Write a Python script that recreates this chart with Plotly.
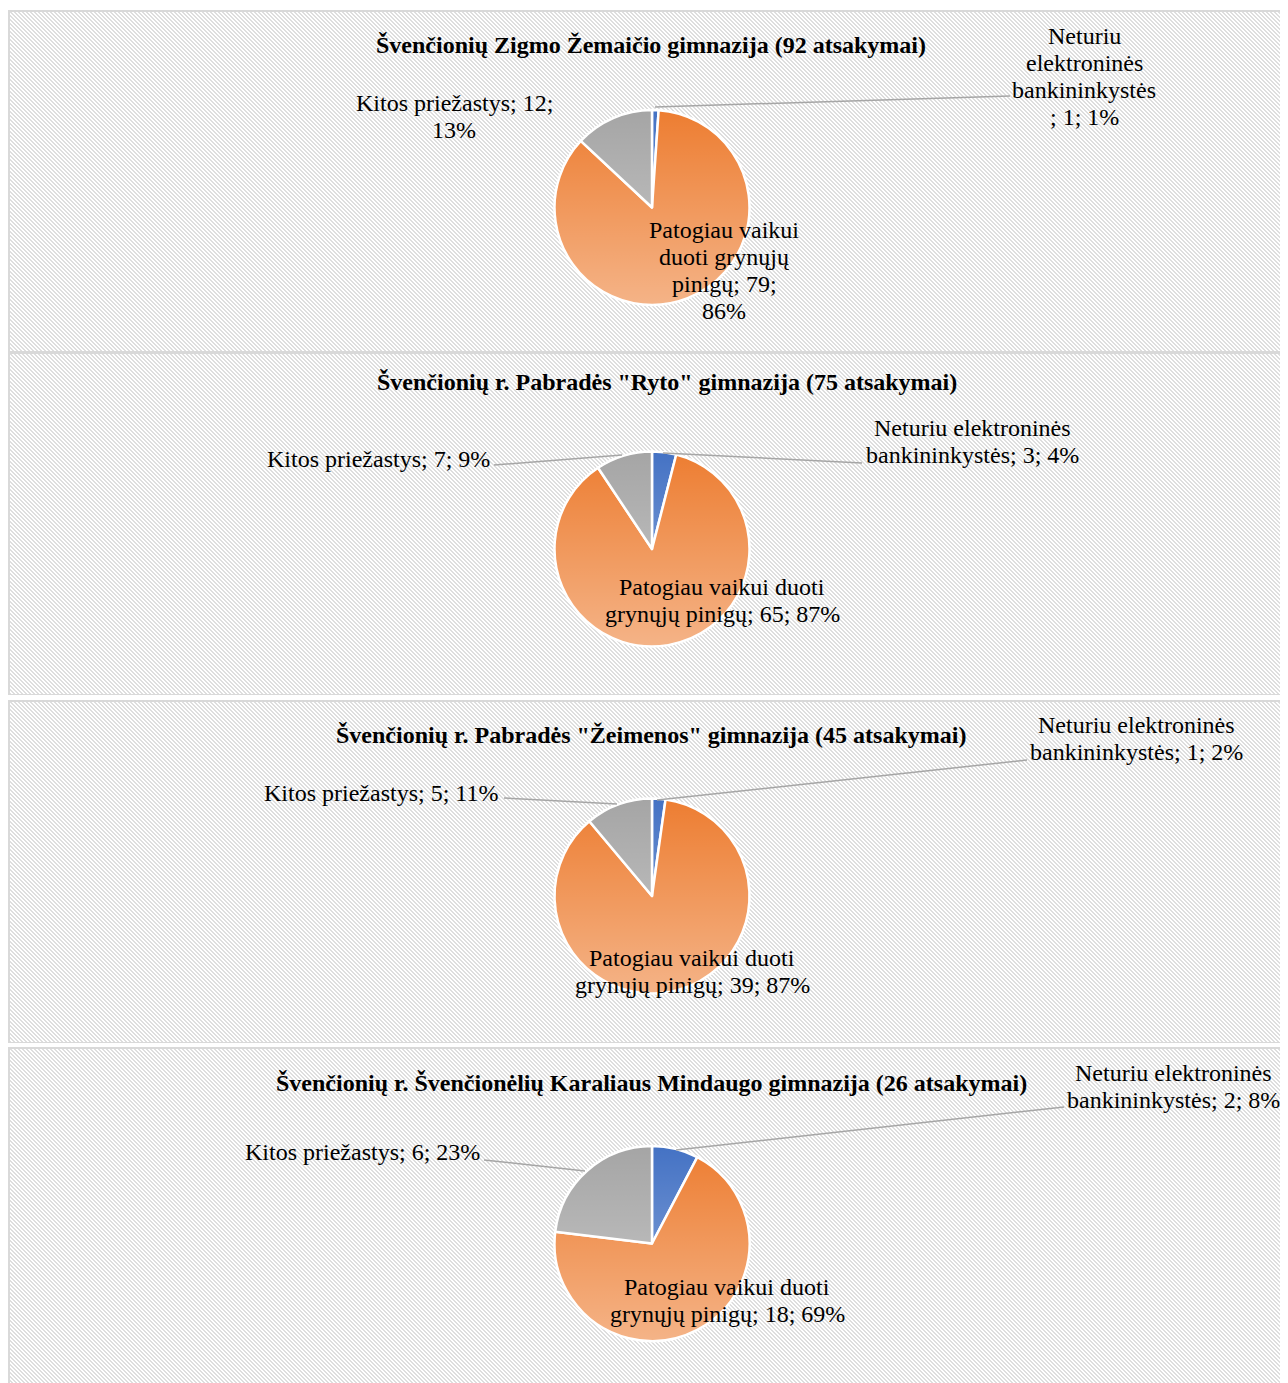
import base64
import plotly.graph_objects as go

OFF = 8  # page offset of the figure (body margin)
W, H = 1288 - OFF, 1383 - OFF  # figure size

# ---------------- data ----------------
categories = [
    "Neturiu elektroninės bankininkystės",
    "Patogiau vaikui duoti grynųjų pinigų",
    "Kitos priežastys",
]
schools = [
    "Švenčionių Zigmo Žemaičio gimnazija",
    'Švenčionių r. Pabradės "Ryto" gimnazija',
    'Švenčionių r. Pabradės "Žeimenos" gimnazija',
    "Švenčionių r. Švenčionėlių Karaliaus Mindaugo gimnazija",
]
responses = [92, 75, 45, 26]
neturiu = [1, 3, 1, 2]
patogiau = [79, 65, 39, 18]
kitos = [12, 7, 5, 6]

# ---------------- style / layout ----------------
colors = ["#4472C4", "#ED7D31", "#A5A5A5"]
FONT = "Liberation Serif"
FS = 24
LINE = 27

# label line wrapping (as in the reference), {v}=value, {p}=percent
wraps = [
    [["Neturiu", "elektroninės", "bankininkystės", "; {v}; {p}%"],
     ["Patogiau vaikui", "duoti grynųjų", "pinigų; {v};", "{p}%"],
     ["Kitos priežastys; {v};", "{p}%"]],
    [["Neturiu elektroninės", "bankininkystės; {v}; {p}%"],
     ["Patogiau vaikui duoti", "grynųjų pinigų; {v}; {p}%"],
     ["Kitos priežastys; {v}; {p}%"]],
    [["Neturiu elektroninės", "bankininkystės; {v}; {p}%"],
     ["Patogiau vaikui duoti", "grynųjų pinigų; {v}; {p}%"],
     ["Kitos priežastys; {v}; {p}%"]],
    [["Neturiu elektroninės", "bankininkystės; {v}; {p}%"],
     ["Patogiau vaikui duoti", "grynųjų pinigų; {v}; {p}%"],
     ["Kitos priežastys; {v}; {p}%"]],
]
# panel boxes (page px): x0, y0, x1, y1
panels = [(8, 10, 1300, 352), (8, 352, 1300, 695), (8, 700, 1300, 1043), (8, 1047, 1300, 1396)]
pie_cx = 652
pie_cy = [207.5, 549, 896, 1243.5]
pie_r = 97.5
title_pos = [(651, 45), (667, 382), (651, 735), (651, 1083)]
# label anchor (x center, first line y) per category
label_pos = [
    [(1084, 36), (724, 230), (454, 103)],
    [(972, 428), (722, 587), (378, 459)],
    [(1136, 725), (692, 958), (381, 793)],
    [(1173, 1073), (727, 1287), (362, 1152)],
]
leaders = [
    [(1010, 96, 655, 107), None, None],
    [(862, 463, 663, 453), None, (494, 465, 622, 455)],
    [(1027, 760, 657, 800), None, (504, 798, 617, 804)],
    [(1064, 1107, 676, 1150), None, (484, 1160, 585, 1171)],
]


def px(x):
    return (x - OFF) / W


def py(y):
    return 1 - (y - OFF) / H


def uri(svg):
    return "data:image/svg+xml;base64," + base64.b64encode(svg.encode("utf-8")).decode()


def hatch_svg(w, h):
    cells = "".join(
        f'<rect x="{(j + k) % 4}" y="{j}" width="1" height="1"/>' for j in range(4) for k in range(2)
    )
    return (
        f'<svg xmlns="http://www.w3.org/2000/svg" width="{w}" height="{h}" viewBox="0 0 {w} {h}" '
        f'preserveAspectRatio="none" shape-rendering="crispEdges">'
        f'<defs><pattern id="p" x="0" y="0" width="4" height="4" patternUnits="userSpaceOnUse">'
        f'<rect width="4" height="4" fill="#ffffff"/><g fill="#dedede">{cells}</g></pattern></defs>'
        f'<rect width="{w}" height="{h}" fill="url(#p)"/>'
        f'<rect x="0.75" y="0.75" width="{w - 1.5}" height="{h - 1.5}" fill="none" '
        f'stroke="#d9d9d9" stroke-width="1.5"/></svg>'
    )


GRAD_SVG = (
    '<svg xmlns="http://www.w3.org/2000/svg" width="200" height="200" viewBox="0 0 200 200">'
    '<defs><linearGradient id="g" x1="0" y1="0" x2="0" y2="1">'
    '<stop offset="0" stop-color="#ffffff" stop-opacity="0"/>'
    '<stop offset="1" stop-color="#ffffff" stop-opacity="0.42"/></linearGradient></defs>'
    '<circle cx="100" cy="100" r="100" fill="url(#g)"/></svg>'
)

fig = go.Figure()
images, annotations, shapes = [], [], []

for i in range(4):
    vals = [neturiu[i], patogiau[i], kitos[i]]
    total = sum(vals)
    cy = pie_cy[i]
    fig.add_trace(go.Pie(
        labels=categories,
        values=vals,
        sort=False,
        direction="clockwise",
        rotation=0,
        marker=dict(colors=colors, line=dict(color="#ffffff", width=2.5)),
        textinfo="none",
        hovertemplate="%{label}: %{value} (%{percent})<extra></extra>",
        showlegend=False,
        domain=dict(x=[px(pie_cx - pie_r), px(pie_cx + pie_r)],
                    y=[py(cy + pie_r), py(cy - pie_r)]),
    ))

    # panel background
    x0, y0, x1, y1 = panels[i]
    images.append(dict(
        source=uri(hatch_svg(x1 - x0, y1 - y0)), xref="paper", yref="paper",
        x=px(x0), y=py(y0), sizex=(x1 - x0) / W, sizey=(y1 - y0) / H,
        xanchor="left", yanchor="top", sizing="stretch", layer="below",
    ))
    # gradient shading on the pie
    images.append(dict(
        source=uri(GRAD_SVG), xref="paper", yref="paper",
        x=px(pie_cx - pie_r), y=py(cy - pie_r), sizex=2 * pie_r / W, sizey=2 * pie_r / H,
        xanchor="left", yanchor="top", sizing="stretch", layer="above",
    ))

    # title
    tx, ty = title_pos[i]
    annotations.append(dict(
        text=f"<b>{schools[i]} ({responses[i]} atsakymai)</b>", x=px(tx), y=py(ty),
        xref="paper", yref="paper", xanchor="center", yanchor="middle", showarrow=False,
        font=dict(family=FONT, size=FS, color="#000000"),
    ))

    # data labels
    for k in range(3):
        pct = round(100 * vals[k] / total)
        lx, ly = label_pos[i][k]
        for j, line in enumerate(wraps[i][k]):
            annotations.append(dict(
                text=line.format(v=vals[k], p=pct), x=px(lx), y=py(ly + j * LINE),
                xref="paper", yref="paper", xanchor="center", yanchor="middle",
                showarrow=False, font=dict(family=FONT, size=FS, color="#000000"),
            ))
        if leaders[i][k]:
            a, b, c, d = leaders[i][k]
            shapes.append(dict(
                type="line", xref="paper", yref="paper",
                x0=px(a), y0=py(b), x1=px(c), y1=py(d),
                line=dict(color="#a6a6a6", width=1.5),
            ))

fig.update_layout(
    width=W, height=H, autosize=False,
    margin=dict(l=0, r=0, t=0, b=0),
    paper_bgcolor="#ffffff", plot_bgcolor="#ffffff",
    images=images, annotations=annotations, shapes=shapes,
)

fig.write_html(
    "out.html",
    post_script="document.documentElement.style.overflow='hidden';document.body.style.overflow='hidden';",
)
